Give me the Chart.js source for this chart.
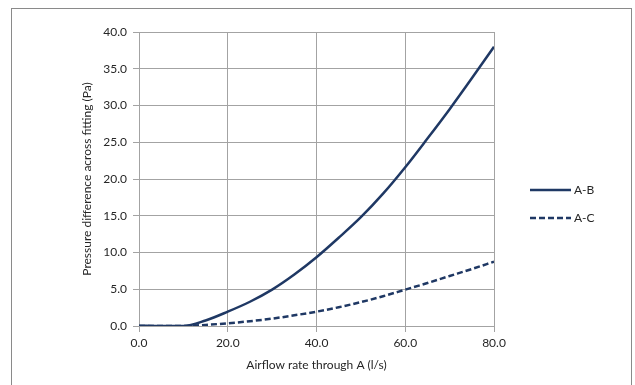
<!DOCTYPE html>
<html>
<head>
<meta charset="utf-8">
<script src="https://cdn.jsdelivr.net/npm/chart.js@4/dist/chart.umd.min.js"></script>
<style>
  html, body { margin: 0; padding: 0; background: #fff; }
  #wrap { position: relative; width: 635px; height: 385px; overflow: hidden; }
  #frame { position: absolute; left: 11px; top: 8px; width: 621px; height: 400px; border: 1px solid #8a8a8a; box-sizing: border-box; pointer-events: none; }
  canvas { position: absolute; left: 0; top: 0; }
</style>
</head>
<body>
<div id="wrap">
  <canvas id="chart" width="635" height="385"></canvas>
  <div id="frame"></div>
</div>
<script>
// Airflow through A (l/s) and pressure drop (Pa)
const flowRates = [0, 5, 10, 15, 20, 25, 30, 35, 40, 45, 50, 55, 60, 65, 70, 75, 80];
const dpAB = [0.05, 0, 0, 0.75, 1.95, 3.3, 4.95, 7.0, 9.35, 12.0, 14.8, 18.0, 21.6, 25.5, 29.5, 33.7, 38.0];
const dpAC = [0, 0, 0, 0.15, 0.37, 0.65, 1.0, 1.45, 1.95, 2.55, 3.25, 4.05, 4.95, 5.85, 6.8, 7.75, 8.75];
const seriesNames = ['A-B', 'A-C'];

const navy = '#1f3864';
const gridGrey = '#a3a3a3';
const font = {family: 'Lato', size: 12};

function points(values) {
    return flowRates.map((x, i) => ({x: x, y: values[i]}));
}

// simple right-hand legend, Excel style (line sample then label)
const sideLegend = {
    id: 'sideLegend',
    afterDraw(chart) {
        const ctx = chart.ctx;
        const area = chart.chartArea;
        const x0 = area.right + 36;
        const rows = [190, 218];
        ctx.save();
        chart.data.datasets.forEach((ds, i) => {
            const y = rows[i];
            ctx.strokeStyle = ds.borderColor;
            ctx.lineWidth = ds.borderWidth;
            ctx.setLineDash(ds.borderDash || []);
            ctx.beginPath();
            ctx.moveTo(x0, y);
            ctx.lineTo(x0 + 41, y);
            ctx.stroke();
            ctx.setLineDash([]);
            ctx.fillStyle = '#262626';
            ctx.font = '12px Lato';
            ctx.textAlign = 'left';
            ctx.textBaseline = 'middle';
            ctx.fillText(ds.label, x0 + 44, y);
        });
        ctx.restore();
    }
};

new Chart(document.getElementById('chart'), {
    type: 'line',
    data: {
        datasets: [{
            label: seriesNames[0],
            data: points(dpAB),
            borderColor: navy,
            borderWidth: 2.5,
            pointRadius: 0,
            cubicInterpolationMode: 'monotone',
            fill: false
        }, {
            label: seriesNames[1],
            data: points(dpAC),
            borderColor: navy,
            borderWidth: 2.5,
            borderDash: [6, 3],
            pointRadius: 0,
            cubicInterpolationMode: 'monotone',
            fill: false
        }]
    },
    options: {
        responsive: false,
        animation: false,
        layout: {padding: {left: 76, top: 32, right: 141, bottom: 9}},
        plugins: {
            legend: {display: false},
            tooltip: {enabled: false}
        },
        scales: {
            x: {
                type: 'linear',
                min: 0,
                max: 80,
                afterFit: s => { s.height = 50; },
                ticks: {stepSize: 20, padding: 4, color: '#262626', font: font,
                    callback: v => v.toFixed(1)},
                grid: {color: gridGrey, tickLength: 6, tickColor: gridGrey},
                border: {color: gridGrey},
                title: {display: true, text: 'Airflow rate through A (l/s)', color: '#262626',
                    font: font, padding: {top: 4, bottom: 4}}
            },
            y: {
                min: 0,
                max: 40,
                afterFit: s => { s.width = 63; },
                ticks: {stepSize: 5, padding: 6, color: '#262626', font: font,
                    callback: v => v.toFixed(1)},
                grid: {color: gridGrey, tickLength: 6, tickColor: gridGrey},
                border: {color: gridGrey},
                title: {display: true, text: 'Pressure difference across fitting (Pa)', color: '#262626',
                    font: font, padding: {top: 4, bottom: 4}}
            }
        }
    },
    plugins: [sideLegend]
});
</script>
</body>
</html>
